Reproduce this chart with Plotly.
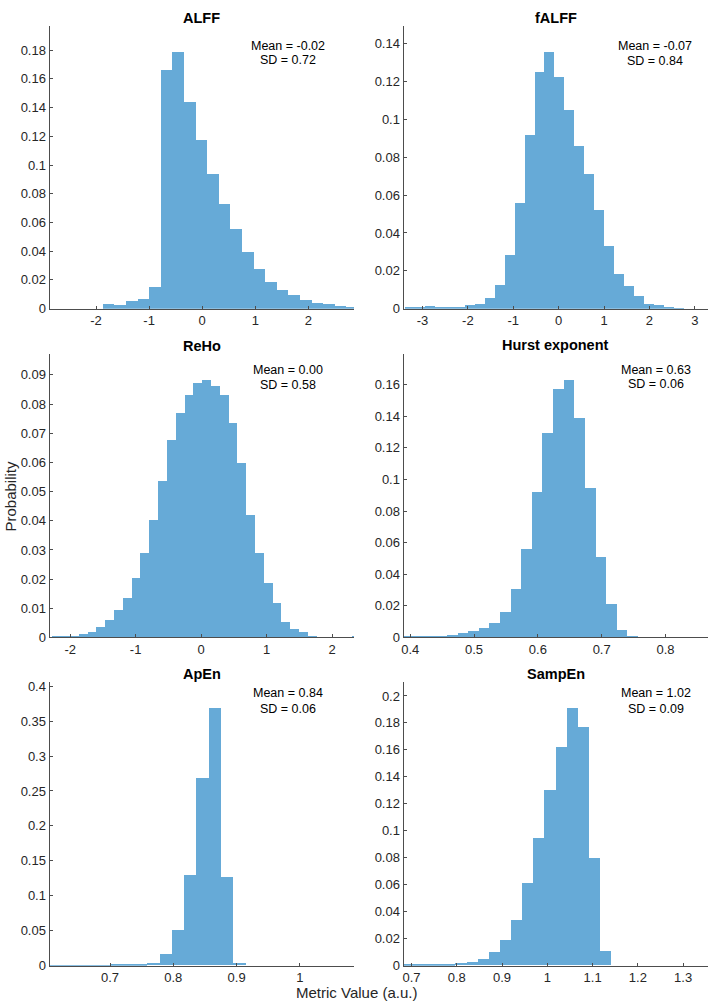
import plotly.graph_objects as go

W, H = 709, 1008

# ---------------- data ----------------
titles = ["ALFF", "fALFF", "ReHo", "Hurst exponent", "ApEn", "SampEn"]
mean_labels = ["Mean = -0.02", "Mean = -0.07", "Mean = 0.00", "Mean = 0.63", "Mean = 0.84", "Mean = 1.02"]
sd_labels = ["SD = 0.72", "SD = 0.84", "SD = 0.58", "SD = 0.06", "SD = 0.06", "SD = 0.09"]

# bin start and bin width for each histogram
alff_start, alff_width = -1.881, 0.2186
alff_prob = [0.0034, 0.0030, 0.0055, 0.0070, 0.0150, 0.1665, 0.1790, 0.1438, 0.1179,
             0.0940, 0.0727, 0.0557, 0.0397, 0.0275, 0.0188, 0.0133, 0.0094, 0.0064,
             0.0044, 0.0032, 0.0018, 0.0011]

falff_start, falff_width = -3.389, 0.2190
falff_prob = [0.0012, 0.0010, 0.0013, 0.0006, 0.0005, 0.0006, 0.0019, 0.0028, 0.0058,
              0.0127, 0.0284, 0.0561, 0.0919, 0.1255, 0.1360, 0.1224, 0.1051, 0.0861,
              0.0711, 0.0523, 0.0333, 0.0185, 0.0122, 0.0068, 0.0028, 0.0019, 0.0007, 0.0003]

reho_start, reho_width = -2.279, 0.1346
reho_prob = [0.0002, 0.0003, 0.0006, 0.0011, 0.0020, 0.0036, 0.0060, 0.0093, 0.0134,
             0.0204, 0.0289, 0.0402, 0.0537, 0.0675, 0.0768, 0.0830, 0.0873, 0.0883,
             0.0862, 0.0832, 0.0736, 0.0598, 0.0418, 0.0289, 0.0188, 0.0119, 0.0054,
             0.0030, 0.0017, 0.0003, 0.0001, 0.0001, 0.0001, 0.0, 0.0003]

hurst_start, hurst_width = 0.3903, 0.01663
hurst_prob = [0.0004, 0.0004, 0.0003, 0.0010, 0.0017, 0.0029, 0.0042, 0.0061, 0.0094,
              0.0161, 0.0305, 0.0558, 0.0920, 0.1293, 0.1569, 0.1631, 0.1389, 0.0943,
              0.0508, 0.0209, 0.0044, 0.0006]

apen_start, apen_width = 0.603, 0.0194
apen_prob = [0.0002, 0.0002, 0.0003, 0.0003, 0.0003, 0.0008, 0.0024, 0.0024, 0.0042,
             0.0165, 0.0505, 0.1297, 0.2679, 0.3689, 0.1269, 0.0033]

sampen_start, sampen_width = 0.6729, 0.0246
sampen_prob = [0.0010, 0.0007, 0.0007, 0.0005, 0.0007, 0.0019, 0.0027, 0.0049, 0.0100,
               0.0188, 0.0337, 0.0615, 0.0946, 0.1298, 0.1617, 0.1910, 0.1766, 0.0800, 0.0110]

starts = [alff_start, falff_start, reho_start, hurst_start, apen_start, sampen_start]
widths = [alff_width, falff_width, reho_width, hurst_width, apen_width, sampen_width]
probs = [alff_prob, falff_prob, reho_prob, hurst_prob, apen_prob, sampen_prob]

x_ranges = [[-2.875, 2.86], [-3.417, 3.29], [-2.315, 2.335], [0.3896, 0.8666], [0.6045, 1.0855], [0.6824, 1.355]]
y_ranges = [[0, 0.197], [0, 0.1496], [0, 0.0971], [0, 0.1793], [0, 0.4057], [0, 0.2102]]

x_tickvals = [[-2, -1, 0, 1, 2], [-3, -2, -1, 0, 1, 2, 3], [-2, -1, 0, 1, 2],
              [0.4, 0.5, 0.6, 0.7, 0.8], [0.7, 0.8, 0.9, 1.0], [0.7, 0.8, 0.9, 1.0, 1.1, 1.2, 1.3]]
x_ticktext = [["-2", "-1", "0", "1", "2"], ["-3", "-2", "-1", "0", "1", "2", "3"], ["-2", "-1", "0", "1", "2"],
              ["0.4", "0.5", "0.6", "0.7", "0.8"], ["0.7", "0.8", "0.9", "1"], ["0.7", "0.8", "0.9", "1", "1.1", "1.2", "1.3"]]
y_tickvals = [[0, 0.02, 0.04, 0.06, 0.08, 0.10, 0.12, 0.14, 0.16, 0.18],
              [0, 0.02, 0.04, 0.06, 0.08, 0.10, 0.12, 0.14],
              [0, 0.01, 0.02, 0.03, 0.04, 0.05, 0.06, 0.07, 0.08, 0.09],
              [0, 0.02, 0.04, 0.06, 0.08, 0.10, 0.12, 0.14, 0.16],
              [0, 0.05, 0.10, 0.15, 0.20, 0.25, 0.30, 0.35, 0.40],
              [0, 0.02, 0.04, 0.06, 0.08, 0.10, 0.12, 0.14, 0.16, 0.18, 0.20]]
y_ticktext = [["0", "0.02", "0.04", "0.06", "0.08", "0.1", "0.12", "0.14", "0.16", "0.18"],
              ["0", "0.02", "0.04", "0.06", "0.08", "0.1", "0.12", "0.14"],
              ["0", "0.01", "0.02", "0.03", "0.04", "0.05", "0.06", "0.07", "0.08", "0.09"],
              ["0", "0.02", "0.04", "0.06", "0.08", "0.1", "0.12", "0.14", "0.16"],
              ["0", "0.05", "0.1", "0.15", "0.2", "0.25", "0.3", "0.35", "0.4"],
              ["0", "0.02", "0.04", "0.06", "0.08", "0.1", "0.12", "0.14", "0.16", "0.18", "0.2"]]

# ---------------- layout (pixels) ----------------
col_x = [(47.7, 353.0), (402.7, 708.0)]
row_y = [(23.0, 309.0), (355.0, 641.5), (686.7, 973.3)]
mean_pos = [(286.7, 43.3, 58.0), (655.3, 43.3, 58.3), (287.2, 370.7, 386.0),
            (655.8, 370.7, 385.7), (287.2, 697.7, 713.3), (655.8, 697.7, 713.3)]
title_y = [15.0, 15.0, 346.5, 346.0, 678.0, 678.0]

FONT = "Liberation Sans, Arial, Helvetica, sans-serif"
BAR_COLOR = "#66aad7"
AXIS_COLOR = "#4d4d4d"
TEXT_COLOR = "#262626"


def px_x(v):
    return v / W


def px_y(v):
    return 1 - v / H


fig = go.Figure()
layout = dict(
    width=W, height=H,
    margin=dict(l=0, r=0, t=0, b=0),
    paper_bgcolor="white", plot_bgcolor="white",
    showlegend=False,
    font=dict(family=FONT, color=TEXT_COLOR, size=13),
    bargap=0,
)
annotations = []

for i in range(6):
    r, c = divmod(i, 2)
    n = i + 1
    xa = "x" if n == 1 else f"x{n}"
    ya = "y" if n == 1 else f"y{n}"
    centers = [starts[i] + widths[i] * (k + 0.5) for k in range(len(probs[i]))]
    fig.add_trace(go.Bar(
        x=centers, y=probs[i], width=[widths[i]] * len(probs[i]),
        marker=dict(color=BAR_COLOR, line=dict(width=0)),
        xaxis=xa, yaxis=ya, hoverinfo="x+y",
    ))
    x0, x1 = col_x[c]
    y0, y1 = row_y[r]
    common = dict(showline=True, linecolor=AXIS_COLOR, linewidth=1, mirror=False,
                  showgrid=False, zeroline=False, ticks="inside", ticklen=3,
                  tickcolor=AXIS_COLOR, tickwidth=1,
                  tickfont=dict(family=FONT, size=13, color=TEXT_COLOR))
    layout[f"xaxis{'' if n == 1 else n}"] = dict(
        domain=[px_x(x0), px_x(x1)], anchor=ya, range=x_ranges[i],
        tickmode="array", tickvals=x_tickvals[i], ticktext=x_ticktext[i], **common)
    layout[f"yaxis{'' if n == 1 else n}"] = dict(
        domain=[px_y(y1), px_y(y0)], anchor=xa, range=y_ranges[i],
        tickmode="array", tickvals=y_tickvals[i], ticktext=y_ticktext[i], **common)
    annotations.append(dict(
        text=f"<b>{titles[i]}</b>", x=px_x((x0 + x1) / 2), y=px_y(title_y[i]),
        xref="paper", yref="paper", xanchor="center", yanchor="middle",
        showarrow=False, font=dict(family=FONT, size=14.5, color="black")))
    mx, my, sy = mean_pos[i]
    annotations.append(dict(
        text=mean_labels[i], x=px_x(mx), y=px_y(my), xref="paper", yref="paper",
        xanchor="center", yanchor="middle", showarrow=False,
        font=dict(family=FONT, size=12.5, color="black")))
    annotations.append(dict(
        text=sd_labels[i], x=px_x(mx), y=px_y(sy), xref="paper", yref="paper",
        xanchor="center", yanchor="middle", showarrow=False,
        font=dict(family=FONT, size=12.5, color="black")))

annotations.append(dict(
    text="Probability", x=px_x(9), y=px_y(498), xref="paper", yref="paper",
    xanchor="center", yanchor="middle", textangle=-90, showarrow=False,
    font=dict(family=FONT, size=15, color=TEXT_COLOR)))
annotations.append(dict(
    text="Metric Value (a.u.)", x=px_x(356), y=px_y(1000), xref="paper", yref="paper",
    xanchor="center", yanchor="middle", showarrow=False,
    font=dict(family=FONT, size=15, color=TEXT_COLOR)))

layout["annotations"] = annotations
fig.update_layout(**layout)
fig.write_html("out.html")
